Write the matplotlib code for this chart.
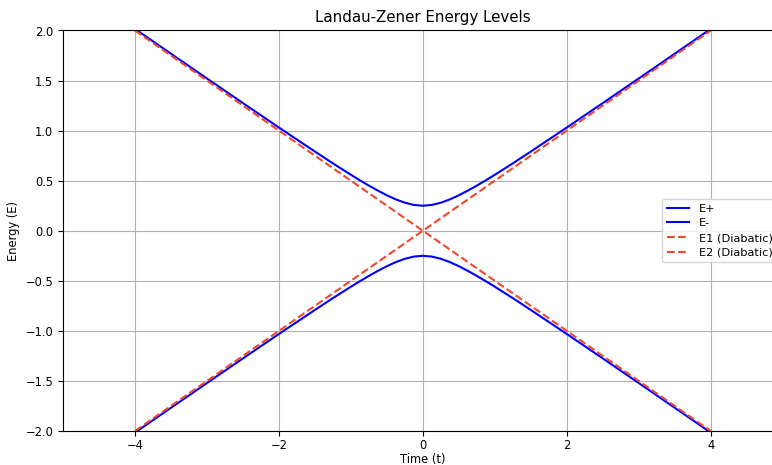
import numpy as np
import matplotlib
matplotlib.use("Agg")
import matplotlib.pyplot as plt

# time samples and adiabatic energies
t = [-4.0, -3.5, -3.0, -2.5, -2.0, -1.75, -1.5, -1.25, -1.0, -0.875, -0.75, -0.625,
     -0.5, -0.375, -0.25, -0.125, 0.0, 0.125, 0.25, 0.375, 0.5, 0.625, 0.75, 0.875,
     1.0, 1.25, 1.5, 1.75, 2.0, 2.5, 3.0, 3.5, 4.0]
e_plus = [2.016, 1.768, 1.521, 1.275, 1.031, 0.911, 0.791, 0.673, 0.559, 0.504,
          0.451, 0.401, 0.354, 0.313, 0.280, 0.258, 0.250, 0.258, 0.280, 0.313,
          0.354, 0.401, 0.451, 0.504, 0.559, 0.673, 0.791, 0.911, 1.031, 1.275,
          1.521, 1.768, 2.016]
e_minus = [-v for v in e_plus]
# diabatic levels
t_dia = [-4.0, 0.0, 4.0]
e1 = [-2.0, 0.0, 2.0]
e2 = [2.0, 0.0, -2.0]

W, H = 772, 465
fig = plt.figure(figsize=(W / 100, H / 100), dpi=100)
# axes run past the right edge of the image, as in the reference
ax = fig.add_axes([63 / W, 1 - 431 / H, (782.7 - 63) / W, (431 - 30.5) / H])

ax.plot(t, e_plus, color="blue", label="E+")
ax.plot(t, e_minus, color="blue", label="E-")
ax.plot(t_dia, e1, "--", color="#f04830", label="E1 (Diabatic)")
ax.plot(t_dia, e2, "--", color="#f04830", label="E2 (Diabatic)")

ax.set_xlim(-5, 5)
ax.set_ylim(-2, 2)
ax.set_xlabel("Time (t)", fontsize=8.3, labelpad=0.8)
ax.set_ylabel("Energy (E)", fontsize=8.3)
ax.set_title("Landau-Zener Energy Levels", fontsize=10.8)
ax.tick_params(labelsize=8.3)
ax.tick_params(axis="x", pad=2)
ax.grid(True, color="#b0b0b0", linewidth=0.8)
ax.legend(loc="center right", fontsize=8.2, labelspacing=0.42)

fig.savefig("out.png", dpi=100)
